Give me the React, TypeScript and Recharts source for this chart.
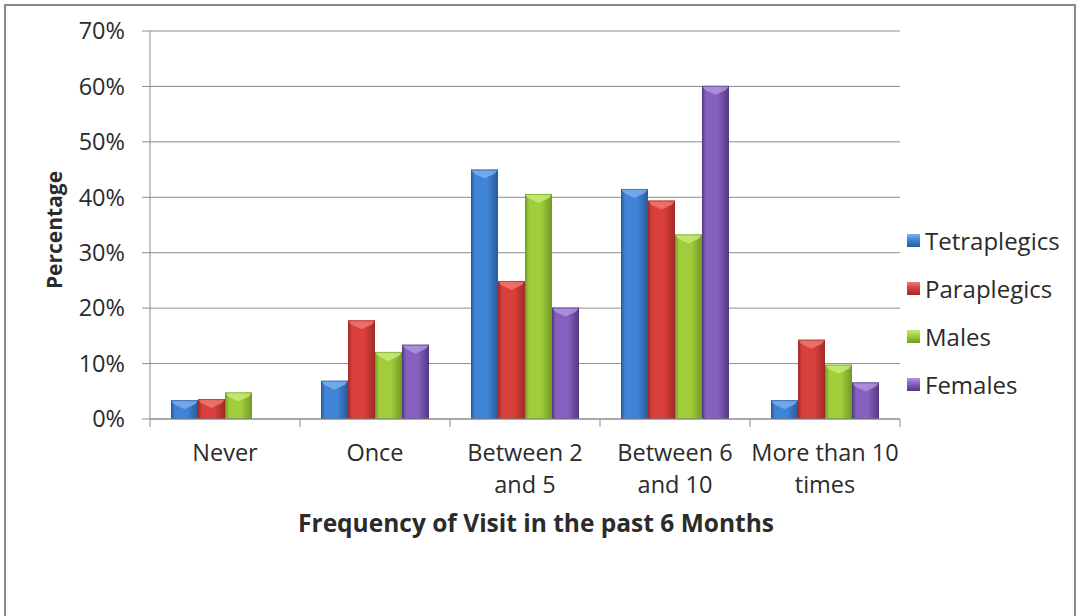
import React from 'react';
import { BarChart, Bar, XAxis, YAxis, CartesianGrid, Legend } from 'recharts';

const categories = ['Never', 'Once', 'Between 2\nand 5', 'Between 6\nand 10', 'More than 10\ntimes'];
const tetraplegics = [3.4, 6.9, 45.0, 41.5, 3.4];
const paraplegics = [3.6, 17.8, 24.9, 39.4, 14.3];
const males = [4.8, 12.1, 40.6, 33.3, 9.8];
const females = [null, 13.4, 20.1, 60.1, 6.6];
const yTicks = [0, 10, 20, 30, 40, 50, 60, 70];

const series = [
    { key: 'tetra', name: 'Tetraplegics', values: tetraplegics, edge: '#285a9c', mid: '#3f84d6', light: '#7fb2ee' },
    { key: 'para', name: 'Paraplegics', values: paraplegics, edge: '#a02a28', mid: '#d9403c', light: '#f07a72' },
    { key: 'males', name: 'Males', values: males, edge: '#719a26', mid: '#9fce3a', light: '#c8ec79' },
    { key: 'females', name: 'Females', values: females, edge: '#533880', mid: '#8660bf', light: '#b397e0' },
];

const data = categories.map((name, i) => {
    const row: Record<string, any> = { name };
    series.forEach(s => { row[s.key] = s.values[i]; });
    return row;
});

const W = 1077;
const H = 616;
const MARGIN = { top: 31, right: 177, bottom: 77, left: 0 };
const YAXIS_W = 150;
const BAND = (W - MARGIN.left - MARGIN.right - YAXIS_W) / categories.length;
const GRAY = '#8c8c8c';
const TEXT = '#2b2b2b';

const BevelBar = (props: any) => {
    const { x, y, width, height, s } = props;
    if (!height || height <= 0) return null;
    const d = Math.min(9, height);
    return (
        <g>
            <rect x={x} y={y} width={width} height={height} fill={`url(#grad-${s.key})`} />
            <polygon
                points={`${x},${y} ${x + width},${y} ${x + width - 3},${y + d * 0.45} ${x + width / 2},${y + d} ${x + 3},${y + d * 0.45}`}
                fill={s.light}
                opacity={0.8}
            />
            <rect x={x + 0.5} y={y + 0.5} width={width - 1} height={height - 1} fill="none" stroke={s.edge} strokeOpacity={0.6} />
        </g>
    );
};

const CategoryTick = (props: any) => {
    const { x, y, payload, index } = props;
    const lines = String(payload.value).split('\n');
    return (
        <g>
            <line x1={x - BAND / 2} y1={y} x2={x - BAND / 2} y2={y + 8} stroke={GRAY} />
            {index === categories.length - 1 && (
                <line x1={x + BAND / 2} y1={y} x2={x + BAND / 2} y2={y + 8} stroke={GRAY} />
            )}
            <text x={x} y={y + 42} textAnchor="middle" fill={TEXT} fontSize={23.5}>
                {lines.map((l, i) => (
                    <tspan key={i} x={x} dy={i === 0 ? 0 : 32}>{l}</tspan>
                ))}
            </text>
        </g>
    );
};

const renderLegend = () => (
    <div>
        {series.map(s => (
            <div key={s.key} style={{ display: 'flex', alignItems: 'center', height: 48 }}>
                <span
                    style={{
                        display: 'inline-block',
                        width: 13,
                        height: 13,
                        marginRight: 5,
                        background: `linear-gradient(180deg, ${s.light} 0%, ${s.mid} 45%, ${s.edge} 100%)`,
                    }}
                />
                <span style={{ fontSize: 24, color: TEXT }}>{s.name}</span>
            </div>
        ))}
    </div>
);

export default function App() {
    return (
        <div style={{ position: 'absolute', left: 0, top: 0, width: W, height: H, overflow: 'hidden', background: '#fff', fontFamily: '"Open Sans", Lato, sans-serif' }}>
            <div style={{ position: 'absolute', left: 4, top: 4, width: W - 9, height: H + 20, border: '2px solid #8a8a8a' }} />
            <BarChart width={W} height={H} data={data} margin={MARGIN} barCategoryGap={21} barGap={0}>
                <defs>
                    {series.map(s => (
                        <linearGradient key={s.key} id={`grad-${s.key}`} x1="0" y1="0" x2="1" y2="0">
                            <stop offset="0%" stopColor={s.edge} />
                            <stop offset="15%" stopColor={s.mid} />
                            <stop offset="60%" stopColor={s.mid} />
                            <stop offset="100%" stopColor={s.edge} />
                        </linearGradient>
                    ))}
                </defs>
                <CartesianGrid vertical={false} stroke={GRAY} />
                <XAxis
                    dataKey="name"
                    interval={0}
                    height={120}
                    axisLine={{ stroke: GRAY }}
                    tickLine={false}
                    tickSize={0}
                    tickMargin={0}
                    tick={<CategoryTick />}
                    label={{ value: 'Frequency of Visit in the past 6 Months', position: 'insideBottom', offset: 7, dx: 11, fill: TEXT, fontSize: 24.5, fontWeight: 'bold' }}
                />
                <YAxis
                    width={YAXIS_W}
                    domain={[0, 70]}
                    ticks={yTicks}
                    tickFormatter={(v: number) => `${v}%`}
                    axisLine={{ stroke: GRAY }}
                    tickLine={{ stroke: GRAY }}
                    tickSize={8}
                    tickMargin={17}
                    tick={{ fill: TEXT, fontSize: 23.5 }}
                    label={{ value: 'Percentage', angle: -90, position: 'center', dx: -20, dy: 5, fill: TEXT, fontSize: 21, fontWeight: 'bold' }}
                />
                <Legend
                    layout="vertical"
                    align="center"
                    verticalAlign="middle"
                    content={renderLegend}
                    wrapperStyle={{ left: 907, top: 216, width: 170 }}
                />
                {series.map(s => (
                    <Bar
                        key={s.key}
                        dataKey={s.key}
                        name={s.name}
                        fill={s.mid}
                        isAnimationActive={false}
                        shape={(p: any) => <BevelBar {...p} s={s} />}
                    />
                ))}
            </BarChart>
        </div>
    );
}
